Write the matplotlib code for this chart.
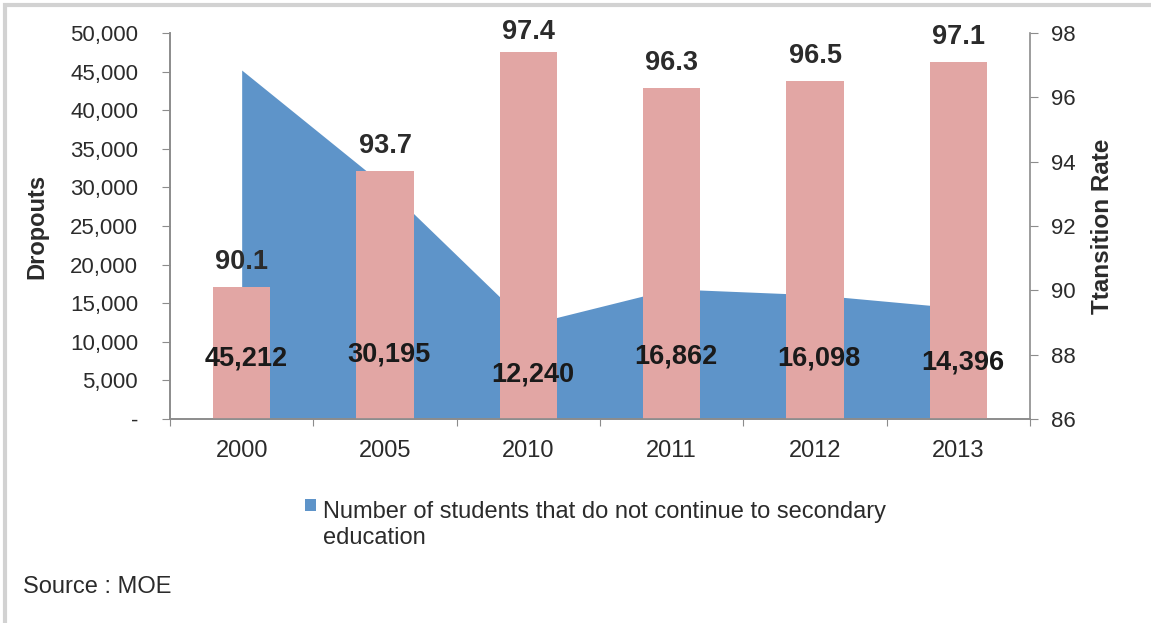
import numpy as np
import matplotlib
matplotlib.use("Agg")
import matplotlib.pyplot as plt
from matplotlib.patches import Rectangle
from matplotlib.ticker import FuncFormatter

plt.rcParams['font.family'] = ['Liberation Sans', 'DejaVu Sans']

# data
years = ['2000', '2005', '2010', '2011', '2012', '2013']
dropouts = [45212, 30195, 12240, 16862, 16098, 14396]
transition_rate = [90.1, 93.7, 97.4, 96.3, 96.5, 97.1]

# where the dropout labels sit (left-axis units)
dropout_label_y = [7900, 8300, 5800, 8100, 7900, 7300]

blue = '#5e94c9'
pink = '#e2a6a4'
spine_col = '#8c8c8c'
text_col = '#2b2b2b'

fig = plt.figure(figsize=(11.51, 6.23), dpi=100)
# outer frame (only top and left edges fall inside the canvas)
fig.patches.append(Rectangle((5 / 1151, -0.2), 1.2, 1.2 - 5 / 623, transform=fig.transFigure,
                             fill=False, edgecolor='#d2d2d2', linewidth=3))

ax = fig.add_axes([0.1477, 0.3274, 0.7472, 0.6195])
ax2 = ax.twinx()

x = np.arange(len(years))

# area for dropouts
ax.fill_between(x, dropouts, 0, color=blue, linewidth=0)
ax.set_xlim(-0.5, len(years) - 0.5)
ax.set_ylim(0, 50000)
ax.set_yticks(np.arange(0, 50001, 5000))
ax.yaxis.set_major_formatter(FuncFormatter(lambda v, p: '-' if v == 0 else f'{int(v):,}'))

# bars for transition rate
rate = np.array(transition_rate)
ax2.bar(x, rate - 86, bottom=86, width=0.4, color=pink, linewidth=0)
ax2.set_ylim(86, 98)
ax2.set_yticks(np.arange(86, 99, 2))

for xi, r in zip(x, transition_rate):
    # keep the label inside the canvas for the tallest bar
    off = 18 if r < 97.3 else 15
    ax2.annotate(f'{r}', (xi, r), xytext=(0, off), textcoords='offset points',
                 ha='center', va='center', fontsize=19.5, fontweight='bold', color=text_col)

for xi, d, ly in zip(x, dropouts, dropout_label_y):
    ax2.text(xi + 0.03, ly, f'{d:,}', transform=ax.transData, ha='center',
             va='center', fontsize=19.5, fontweight='bold', color='#1a1a1a')

# x ticks sit on category boundaries, labels at centres
ax.set_xticks(np.arange(-0.5, len(years), 1.0))
ax.set_xticklabels([])
ax.set_xticks(x, minor=True)
ax.set_xticklabels(years, minor=True)
ax.tick_params(axis='x', which='minor', length=0, pad=15, labelsize=17, labelcolor=text_col)
ax.tick_params(axis='x', which='major', length=5, color=spine_col)

ax.tick_params(axis='y', length=6, color=spine_col, labelsize=16, labelcolor=text_col, pad=17)
ax2.tick_params(axis='y', length=6, color=spine_col, labelsize=16, labelcolor=text_col, pad=9)

for a in (ax, ax2):
    a.spines['top'].set_visible(False)
    for s in ('left', 'right', 'bottom'):
        a.spines[s].set_color(spine_col)
        a.spines[s].set_linewidth(1.2)
ax.spines['right'].set_visible(False)

ax.set_ylabel('Dropouts', fontsize=17, fontweight='bold', color=text_col)
ax.yaxis.set_label_coords(-0.142, 0.5)
ax2.set_ylabel('Ttansition Rate', fontsize=17.5, fontweight='bold', color=text_col)
ax2.yaxis.set_label_coords(1.071, 0.5)

# legend entry for the area series
fig.patches.append(Rectangle((305 / 1151, 1 - 511 / 623), 11 / 1151, 12 / 623,
                             transform=fig.transFigure, facecolor=blue, edgecolor='none'))
fig.text(323 / 1151, 1 - 525 / 623,
         'Number of students that do not continue to secondary\neducation',
         ha='left', va='center', fontsize=17, color=text_col, linespacing=1.2)

fig.text(23 / 1151, 1 - 587 / 623, 'Source : MOE', ha='left', va='center',
         fontsize=17, color=text_col)

fig.savefig('out.png', dpi=100)
